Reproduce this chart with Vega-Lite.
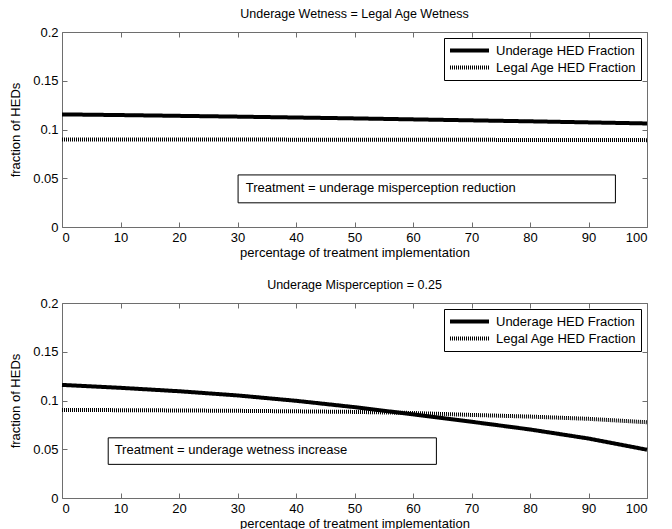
{
  "$schema": "https://vega.github.io/schema/vega-lite/v6.json",
  "padding": {"left": 9, "top": 7, "right": 5, "bottom": 0},
  "spacing": 18,
  "background": "white",
  "config": {
    "font": "Liberation Sans",
    "view": {"stroke": "#6e6e6e", "strokeWidth": 1},
    "axis": {
      "domain": false, "grid": false,
      "tickColor": "#6e6e6e", "tickSize": -5,
      "labelFontSize": 13, "labelColor": "black", "labelPadding": 9,
      "titleFontSize": 13, "titleFontWeight": "normal", "titleColor": "black"
    },
    "title": {"fontSize": 12.5, "fontWeight": "normal", "color": "black", "offset": 6},
    "legend": {
      "title": null, "orient": "top-right", "offset": 6,
      "strokeColor": "black", "fillColor": "white", "padding": 4,
      "symbolType": "M-1,0H5", "symbolStrokeWidth": 4, "symbolSize": 169,
      "symbolStrokeColor": "black", "labelFontSize": 13, "labelColor": "black",
      "labelLimit": 300, "rowPadding": -3, "labelOffset": 31
    }
  },
  "datasets": {
    "top": [
      {"x": 0, "series": "Underage HED Fraction", "y": 0.1155},
      {"x": 10, "series": "Underage HED Fraction", "y": 0.1148},
      {"x": 20, "series": "Underage HED Fraction", "y": 0.1140},
      {"x": 30, "series": "Underage HED Fraction", "y": 0.1132},
      {"x": 40, "series": "Underage HED Fraction", "y": 0.1123},
      {"x": 50, "series": "Underage HED Fraction", "y": 0.1114},
      {"x": 60, "series": "Underage HED Fraction", "y": 0.1104},
      {"x": 70, "series": "Underage HED Fraction", "y": 0.1094},
      {"x": 80, "series": "Underage HED Fraction", "y": 0.1084},
      {"x": 90, "series": "Underage HED Fraction", "y": 0.1073},
      {"x": 100, "series": "Underage HED Fraction", "y": 0.1062},
      {"x": 0, "series": "Legal Age HED Fraction", "y": 0.0898},
      {"x": 10, "series": "Legal Age HED Fraction", "y": 0.0898},
      {"x": 20, "series": "Legal Age HED Fraction", "y": 0.0897},
      {"x": 30, "series": "Legal Age HED Fraction", "y": 0.0897},
      {"x": 40, "series": "Legal Age HED Fraction", "y": 0.0896},
      {"x": 50, "series": "Legal Age HED Fraction", "y": 0.0895},
      {"x": 60, "series": "Legal Age HED Fraction", "y": 0.0895},
      {"x": 70, "series": "Legal Age HED Fraction", "y": 0.0894},
      {"x": 80, "series": "Legal Age HED Fraction", "y": 0.0893},
      {"x": 90, "series": "Legal Age HED Fraction", "y": 0.0892},
      {"x": 100, "series": "Legal Age HED Fraction", "y": 0.0891}
    ],
    "bottom": [
      {"x": 0, "series": "Underage HED Fraction", "y": 0.1160},
      {"x": 10, "series": "Underage HED Fraction", "y": 0.1130},
      {"x": 20, "series": "Underage HED Fraction", "y": 0.1095},
      {"x": 30, "series": "Underage HED Fraction", "y": 0.1052},
      {"x": 40, "series": "Underage HED Fraction", "y": 0.0997},
      {"x": 50, "series": "Underage HED Fraction", "y": 0.0932},
      {"x": 60, "series": "Underage HED Fraction", "y": 0.0858},
      {"x": 70, "series": "Underage HED Fraction", "y": 0.0782},
      {"x": 80, "series": "Underage HED Fraction", "y": 0.0703},
      {"x": 90, "series": "Underage HED Fraction", "y": 0.0610},
      {"x": 100, "series": "Underage HED Fraction", "y": 0.0495},
      {"x": 0, "series": "Legal Age HED Fraction", "y": 0.0903},
      {"x": 10, "series": "Legal Age HED Fraction", "y": 0.0901},
      {"x": 20, "series": "Legal Age HED Fraction", "y": 0.0898},
      {"x": 30, "series": "Legal Age HED Fraction", "y": 0.0894},
      {"x": 40, "series": "Legal Age HED Fraction", "y": 0.0889},
      {"x": 50, "series": "Legal Age HED Fraction", "y": 0.0883},
      {"x": 60, "series": "Legal Age HED Fraction", "y": 0.0872},
      {"x": 70, "series": "Legal Age HED Fraction", "y": 0.0852},
      {"x": 80, "series": "Legal Age HED Fraction", "y": 0.0835},
      {"x": 90, "series": "Legal Age HED Fraction", "y": 0.0812},
      {"x": 100, "series": "Legal Age HED Fraction", "y": 0.0777}
    ],
    "topNote": [{"x1": 30.1, "x2": 94.6, "y1": 0.0248, "y2": 0.0534, "tx": 31.4, "ty": 0.0405, "label": "Treatment = underage misperception reduction"}],
    "bottomNote": [{"x1": 7.9, "x2": 64.0, "y1": 0.0345, "y2": 0.0617, "tx": 9.0, "ty": 0.0495, "label": "Treatment = underage wetness increase"}]
  },
  "vconcat": [
    {
      "title": "Underage Wetness = Legal Age Wetness",
      "width": 585, "height": 195,
      "resolve": {"axis": {"x": "independent", "y": "independent"}},
      "layer": [
        {
          "data": {"name": "top"},
          "mark": {"type": "line", "strokeWidth": 4, "color": "black"},
          "encoding": {
            "x": {"field": "x", "type": "quantitative", "scale": {"domain": [0, 100], "nice": false},
                  "axis": {"orient": "bottom", "title": "percentage of treatment implementation", "values": [0,10,20,30,40,50,60,70,80,90,100], "format": "d", "titlePadding": 2}},
            "y": {"field": "y", "type": "quantitative", "scale": {"domain": [0, 0.2], "nice": false, "zero": false},
                  "axis": {"orient": "left", "title": "fraction of HEDs", "values": [0, 0.05, 0.1, 0.15, 0.2], "format": "~g", "titlePadding": 10}},
            "strokeDash": {"field": "series", "type": "nominal",
                  "scale": {"domain": ["Underage HED Fraction", "Legal Age HED Fraction"], "range": [[1, 0], [1, 1]]}}
          }
        },
        {
          "data": {"name": "top"},
          "mark": {"type": "line", "opacity": 0},
          "encoding": {
            "x": {"field": "x", "type": "quantitative", "axis": {"orient": "top", "title": null, "labels": false, "values": [0,10,20,30,40,50,60,70,80,90,100]}},
            "y": {"field": "y", "type": "quantitative", "axis": {"orient": "right", "title": null, "labels": false, "values": [0, 0.05, 0.1, 0.15, 0.2]}}
          }
        },
        {
          "data": {"name": "topNote"},
          "mark": {"type": "rect", "fill": "white", "stroke": "black", "strokeWidth": 1},
          "encoding": {
            "x": {"field": "x1", "type": "quantitative", "axis": null},
            "x2": {"field": "x2"},
            "y": {"field": "y1", "type": "quantitative", "axis": null},
            "y2": {"field": "y2"}
          }
        },
        {
          "data": {"name": "topNote"},
          "mark": {"type": "text", "align": "left", "baseline": "middle", "fontSize": 13, "color": "black"},
          "encoding": {
            "x": {"field": "tx", "type": "quantitative", "axis": null},
            "y": {"field": "ty", "type": "quantitative", "axis": null},
            "text": {"field": "label"}
          }
        }
      ]
    },
    {
      "title": "Underage Misperception = 0.25",
      "width": 585, "height": 195,
      "resolve": {"axis": {"x": "independent", "y": "independent"}},
      "layer": [
        {
          "data": {"name": "bottom"},
          "mark": {"type": "line", "strokeWidth": 4, "color": "black"},
          "encoding": {
            "x": {"field": "x", "type": "quantitative", "scale": {"domain": [0, 100], "nice": false},
                  "axis": {"orient": "bottom", "title": "percentage of treatment implementation", "values": [0,10,20,30,40,50,60,70,80,90,100], "format": "d", "titlePadding": 2}},
            "y": {"field": "y", "type": "quantitative", "scale": {"domain": [0, 0.2], "nice": false, "zero": false},
                  "axis": {"orient": "left", "title": "fraction of HEDs", "values": [0, 0.05, 0.1, 0.15, 0.2], "format": "~g", "titlePadding": 10}},
            "strokeDash": {"field": "series", "type": "nominal",
                  "scale": {"domain": ["Underage HED Fraction", "Legal Age HED Fraction"], "range": [[1, 0], [1, 1]]}}
          }
        },
        {
          "data": {"name": "bottom"},
          "mark": {"type": "line", "opacity": 0},
          "encoding": {
            "x": {"field": "x", "type": "quantitative", "axis": {"orient": "top", "title": null, "labels": false, "values": [0,10,20,30,40,50,60,70,80,90,100]}},
            "y": {"field": "y", "type": "quantitative", "axis": {"orient": "right", "title": null, "labels": false, "values": [0, 0.05, 0.1, 0.15, 0.2]}}
          }
        },
        {
          "data": {"name": "bottomNote"},
          "mark": {"type": "rect", "fill": "white", "stroke": "black", "strokeWidth": 1},
          "encoding": {
            "x": {"field": "x1", "type": "quantitative", "axis": null},
            "x2": {"field": "x2"},
            "y": {"field": "y1", "type": "quantitative", "axis": null},
            "y2": {"field": "y2"}
          }
        },
        {
          "data": {"name": "bottomNote"},
          "mark": {"type": "text", "align": "left", "baseline": "middle", "fontSize": 13, "color": "black"},
          "encoding": {
            "x": {"field": "tx", "type": "quantitative", "axis": null},
            "y": {"field": "ty", "type": "quantitative", "axis": null},
            "text": {"field": "label"}
          }
        }
      ]
    }
  ],
  "resolve": {"scale": {"strokeDash": "independent"}, "legend": {"strokeDash": "independent"}}
}
